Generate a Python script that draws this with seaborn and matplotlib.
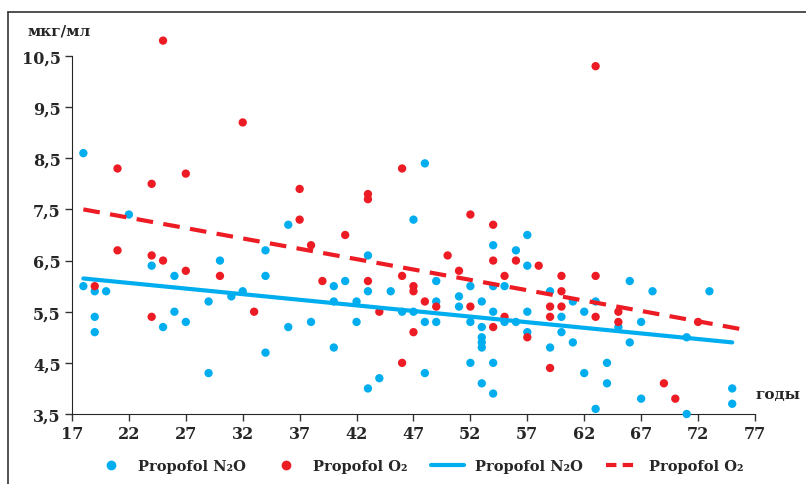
import pandas as pd
import numpy as np
import matplotlib
matplotlib.use("Agg")
import matplotlib.pyplot as plt
from matplotlib.lines import Line2D
import seaborn as sns

# Propofol N2O group (age, concentration)
n2o_age = [18, 18, 19, 19, 19, 20, 22, 24, 25, 26, 26, 27, 29, 29, 30, 31, 32,
           34, 34, 34, 36, 36, 38, 40, 40, 40, 41, 42, 42, 43, 43, 43, 44, 45,
           46, 47, 47, 48, 48, 48, 49, 49, 49, 51, 51, 52, 52, 52,
           53, 53, 53, 53, 53, 53, 54, 54, 54, 54, 54, 55, 55, 56, 56,
           57, 57, 57, 57, 59, 59, 60, 60, 61, 61, 62, 62, 63, 63, 64, 64,
           65, 66, 66, 67, 67, 68, 71, 71, 73, 75, 75]
n2o_val = [8.6, 6.0, 5.9, 5.4, 5.1, 5.9, 7.4, 6.4, 5.2, 6.2, 5.5, 5.3, 5.7, 4.3, 6.5, 5.8, 5.9,
           6.7, 6.2, 4.7, 7.2, 5.2, 5.3, 6.0, 5.7, 4.8, 6.1, 5.7, 5.3, 6.6, 5.9, 4.0, 4.2, 5.9,
           5.5, 7.3, 5.5, 8.4, 5.3, 4.3, 6.1, 5.7, 5.3, 5.8, 5.6, 6.0, 5.3, 4.5,
           5.7, 5.2, 5.0, 4.9, 4.8, 4.1, 6.8, 6.0, 5.5, 4.5, 3.9, 6.0, 5.3, 6.7, 5.3,
           7.0, 6.4, 5.5, 5.1, 5.9, 4.8, 5.4, 5.1, 5.7, 4.9, 5.5, 4.3, 5.7, 3.6, 4.5, 4.1,
           5.2, 6.1, 4.9, 5.3, 3.8, 5.9, 5.0, 3.5, 5.9, 4.0, 3.7]

# Propofol O2 group
o2_age = [19, 21, 21, 24, 24, 24, 25, 25, 27, 27, 30, 32, 33, 37, 37, 38, 39, 41,
          43, 43, 43, 44, 46, 46, 46, 47, 47, 47, 48, 49, 50, 51, 52, 52,
          54, 54, 54, 55, 55, 56, 57, 58, 59, 59, 59, 60, 60, 60,
          63, 63, 63, 65, 65, 69, 70, 72]
o2_val = [6.0, 8.3, 6.7, 8.0, 6.6, 5.4, 10.8, 6.5, 8.2, 6.3, 6.2, 9.2, 5.5, 7.9, 7.3, 6.8, 6.1, 7.0,
          7.8, 7.7, 6.1, 5.5, 8.3, 6.2, 4.5, 6.0, 5.9, 5.1, 5.7, 5.6, 6.6, 6.3, 7.4, 5.6,
          7.2, 6.5, 5.2, 6.2, 5.4, 6.5, 5.0, 6.4, 5.6, 5.4, 4.4, 6.2, 5.9, 5.6,
          10.3, 6.2, 5.4, 5.5, 5.3, 4.1, 3.8, 5.3]

# trend lines
n2o_trend_x = [18, 75]
n2o_trend_y = [6.15, 4.9]
o2_trend_x = [18, 76]
o2_trend_y = [7.5, 5.15]

x_ticks = [17, 22, 27, 32, 37, 42, 47, 52, 57, 62, 67, 72, 77]
y_ticks = [3.5, 4.5, 5.5, 6.5, 7.5, 8.5, 9.5, 10.5]
y_tick_labels = ["3,5", "4,5", "5,5", "6,5", "7,5", "8,5", "9,5", "10,5"]

blue = "#00AEEF"
red = "#ED1C24"

sns.set_style("ticks")
plt.rcParams['font.family'] = ['DejaVu Serif']
plt.rcParams['font.weight'] = 'bold'

fig = plt.figure(figsize=(8.06, 4.85), dpi=100)
ax = fig.add_axes([0.0893, 0.1443, 0.8474, 0.791])

df = pd.concat([
    pd.DataFrame({'age': n2o_age, 'val': n2o_val, 'group': 'N2O'}),
    pd.DataFrame({'age': o2_age, 'val': o2_val, 'group': 'O2'}),
])
sns.scatterplot(data=df, x='age', y='val', hue='group', palette={'N2O': blue, 'O2': red},
                s=36, linewidth=0, legend=False, ax=ax, clip_on=False, zorder=3)

sns.lineplot(x=n2o_trend_x, y=n2o_trend_y, color=blue, linewidth=3, ax=ax, zorder=4)
sns.lineplot(x=o2_trend_x, y=o2_trend_y, color=red, linewidth=3, ax=ax, zorder=4,
             dashes=False)
ax.lines[-1].set_dashes([4, 2.5])

ax.set_xlim(17, 77)
ax.set_ylim(3.5, 11.0)
ax.set_xticks(x_ticks)
ax.set_yticks(y_ticks)
ax.set_yticklabels(y_tick_labels)
ax.tick_params(labelsize=11.5, length=5, width=1, color='#333333', pad=3)
for lab in ax.get_xticklabels() + ax.get_yticklabels():
    lab.set_fontweight('bold')
ax.spines['top'].set_visible(False)
ax.spines['right'].set_visible(False)
ax.spines['left'].set_bounds(3.5, 10.5)
ax.set_xlabel('')
ax.set_ylabel('')

fig.text(0.034, 0.935, 'мкг/мл', fontsize=11, fontweight='bold', ha='left', va='center')
fig.text(0.937, 0.185, 'годы', fontsize=11, fontweight='bold', ha='left', va='center')

# outer frame (top and left edges visible)
fig.add_artist(Line2D([0.01, 1.0], [0.974, 0.974], transform=fig.transFigure, color='#333333', lw=1.2))
fig.add_artist(Line2D([0.01, 0.01], [0.0, 0.974], transform=fig.transFigure, color='#333333', lw=1.2))

handles = [
    Line2D([], [], marker='o', linestyle='none', color=blue, markersize=6),
    Line2D([], [], marker='o', linestyle='none', color=red, markersize=6),
    Line2D([], [], color=blue, linewidth=3),
    Line2D([], [], color=red, linewidth=3, dashes=[2.5, 1.5]),
]
labels = ['Propofol N₂O', 'Propofol O₂', 'Propofol N₂O', 'Propofol O₂']
fig.legend(handles, labels, loc='center', bbox_to_anchor=(0.52, 0.037), ncol=4,
           frameon=False, prop={'size': 10.5, 'weight': 'bold'}, columnspacing=1.6,
           handlelength=2.3, handletextpad=0.7)

fig.savefig('out.png', dpi=100)
